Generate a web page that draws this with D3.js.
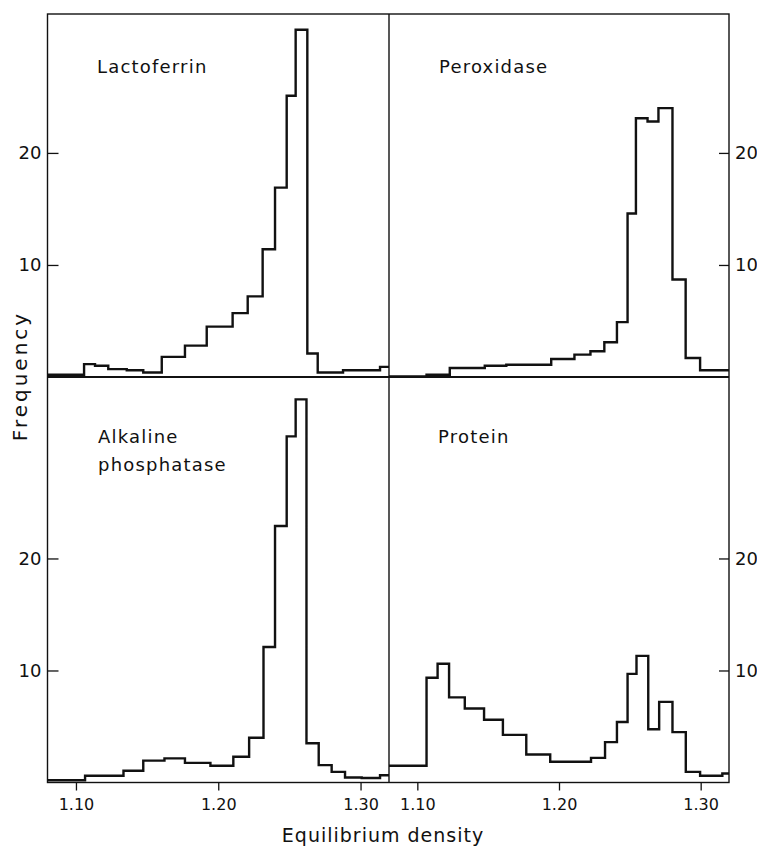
<!DOCTYPE html>
<html>
<head>
<meta charset="utf-8">
<script src="https://cdn.jsdelivr.net/npm/d3@7"></script>
<style>
  body { margin: 0; background: #fff; }
  svg text { font-family: "DejaVu Sans", sans-serif; fill: #111; }
</style>
</head>
<body>
<div id="chart"></div>
<script>
// bin edges (equilibrium density) and frequencies
var lactoferrinEdges = [1.080, 1.1057, 1.1134, 1.1227, 1.1357, 1.1473, 1.1603, 1.1766, 1.1919, 1.2101,
    1.2207, 1.2312, 1.2399, 1.2481, 1.2544, 1.2626, 1.2699, 1.2877, 1.3137, 1.320];
var lactoferrinFreq = [0.2, 1.15, 1.0, 0.7, 0.6, 0.4, 1.8, 2.8, 4.5, 5.7,
    7.2, 11.4, 16.9, 25.1, 31.0, 2.1, 0.4, 0.6, 0.9];

var peroxidaseEdges = [1.080, 1.1065, 1.1229, 1.1476, 1.1628, 1.1945, 1.2109, 1.2222, 1.2320, 1.2409,
    1.2484, 1.2543, 1.2625, 1.2702, 1.2801, 1.2894, 1.2996, 1.320];
var peroxidaseFreq = [0.05, 0.2, 0.8, 1.0, 1.1, 1.6, 2.0, 2.3, 3.1,
    4.9, 14.6, 23.1, 22.8, 24.0, 8.7, 1.7, 0.6];

var alkalineEdges = [1.080, 1.1064, 1.1334, 1.1473, 1.1622, 1.1766, 1.1945, 1.2106, 1.2217, 1.2318,
    1.2399, 1.2481, 1.2544, 1.2620, 1.2706, 1.2797, 1.2891, 1.3008, 1.3137, 1.320];
var alkalineFreq = [0.2, 0.6, 1.05, 1.95, 2.15, 1.75, 1.5, 2.3, 4.0,
    12.1, 22.9, 30.9, 34.2, 3.5, 1.55, 0.95, 0.45, 0.4, 0.65];

var proteinEdges = [1.080, 1.1065, 1.1143, 1.1224, 1.1335, 1.1471, 1.1604, 1.1769, 1.1938, 1.2226,
    1.2325, 1.2409, 1.2484, 1.2547, 1.2630, 1.2707, 1.2801, 1.2895, 1.2996, 1.3153, 1.320];
var proteinFreq = [1.5, 9.35, 10.6, 7.6, 6.6, 5.6, 4.25, 2.5, 1.85, 2.2,
    3.6, 5.4, 9.7, 11.3, 4.75, 7.2, 4.5, 0.95, 0.6, 0.8];

var xTicks = [1.10, 1.20, 1.30];
var yTicks = [10, 20];

var width = 757;
var height = 849;
var frameLeft = 47.5, frameMid = 389, frameRight = 729;
var frameTop = 14, frameMidY = 377, frameBottom = 782.5;

var svg = d3.select("#chart").append("svg")
    .attr("width", width)
    .attr("height", height);

var xLeft = d3.scaleLinear().domain([1.08, 1.32]).range([frameLeft, frameMid]);
var xRight = d3.scaleLinear().domain([1.08, 1.32]).range([frameMid, frameRight]);
var yTop = d3.scaleLinear().domain([0, 32.4]).range([frameMidY, frameTop]);
var yBottom = d3.scaleLinear().domain([0, 36.2]).range([frameBottom, frameMidY]);

var panels = [
    { name: ["Lactoferrin"], edges: lactoferrinEdges, freq: lactoferrinFreq, x: xLeft, y: yTop, lx: 97, ly: 73 },
    { name: ["Peroxidase"], edges: peroxidaseEdges, freq: peroxidaseFreq, x: xRight, y: yTop, lx: 439, ly: 73 },
    { name: ["Alkaline", "phosphatase"], edges: alkalineEdges, freq: alkalineFreq, x: xLeft, y: yBottom, lx: 98, ly: 443 },
    { name: ["Protein"], edges: proteinEdges, freq: proteinFreq, x: xRight, y: yBottom, lx: 438, ly: 443 }
];

// histograms
panels.forEach(function (p) {
    var pts = p.edges.map(function (e, i) {
        return [e, p.freq[Math.min(i, p.freq.length - 1)]];
    });
    var line = d3.line()
        .x(function (d) { return p.x(d[0]); })
        .y(function (d) { return p.y(d[1]); })
        .curve(d3.curveStepAfter);
    svg.append("path")
        .attr("d", line(pts))
        .attr("fill", "none")
        .attr("stroke", "#111")
        .attr("stroke-width", 2.4)
        .attr("stroke-linejoin", "miter");

    var label = svg.append("text")
        .attr("x", p.lx)
        .attr("y", p.ly)
        .attr("font-size", "18px")
        .attr("letter-spacing", "1.2px");
    label.selectAll("tspan")
        .data(p.name)
        .enter()
        .append("tspan")
        .attr("x", p.lx)
        .attr("dy", function (d, i) { return i === 0 ? 0 : 28; })
        .text(function (d) { return d; });
});

// frame
var frame = svg.append("g")
    .attr("stroke", "#111")
    .attr("fill", "none");
frame.append("rect")
    .attr("x", frameLeft).attr("y", frameTop)
    .attr("width", frameRight - frameLeft).attr("height", frameBottom - frameTop)
    .attr("stroke-width", 1.4);
frame.append("line")
    .attr("x1", frameLeft).attr("x2", frameRight)
    .attr("y1", frameMidY).attr("y2", frameMidY)
    .attr("stroke-width", 1.8);
frame.append("line")
    .attr("x1", frameMid).attr("x2", frameMid)
    .attr("y1", frameTop).attr("y2", frameBottom)
    .attr("stroke-width", 1.4);

// y axes: left panels tick inward to the right, right panels inward to the left
function styleAxis(g) {
    g.select(".domain").remove();
    g.selectAll("line").attr("stroke", "#111").attr("stroke-width", 1.3);
    g.selectAll("text")
        .attr("font-size", "18px")
        .style("font-family", "DejaVu Sans, sans-serif")
        .attr("fill", "#111");
}

[yTop, yBottom].forEach(function (y) {
    svg.append("g")
        .attr("transform", "translate(" + frameLeft + ",0)")
        .call(d3.axisLeft(y).tickValues(yTicks).tickSizeInner(-11).tickSizeOuter(0).tickPadding(6)
            .tickFormat(d3.format("d")))
        .call(styleAxis);
    svg.append("g")
        .attr("transform", "translate(" + frameRight + ",0)")
        .call(d3.axisRight(y).tickValues(yTicks).tickSizeInner(-10).tickSizeOuter(0).tickPadding(6)
            .tickFormat(d3.format("d")))
        .call(styleAxis);
});

// x axes
[xLeft, xRight].forEach(function (x) {
    svg.append("g")
        .attr("transform", "translate(0," + frameBottom + ")")
        .call(d3.axisBottom(x).tickValues(xTicks).tickSizeInner(8).tickSizeOuter(0).tickPadding(8)
            .tickFormat(d3.format(".2f")))
        .call(styleAxis)
        .selectAll("text").attr("font-size", "16px");
});

svg.append("text")
    .attr("x", 383)
    .attr("y", 842)
    .attr("text-anchor", "middle")
    .attr("font-size", "19px")
    .attr("letter-spacing", "1px")
    .text("Equilibrium density");

svg.append("text")
    .attr("transform", "translate(27,376) rotate(-90)")
    .attr("text-anchor", "middle")
    .attr("font-size", "20px")
    .attr("letter-spacing", "3px")
    .text("Frequency");
</script>
</body>
</html>
